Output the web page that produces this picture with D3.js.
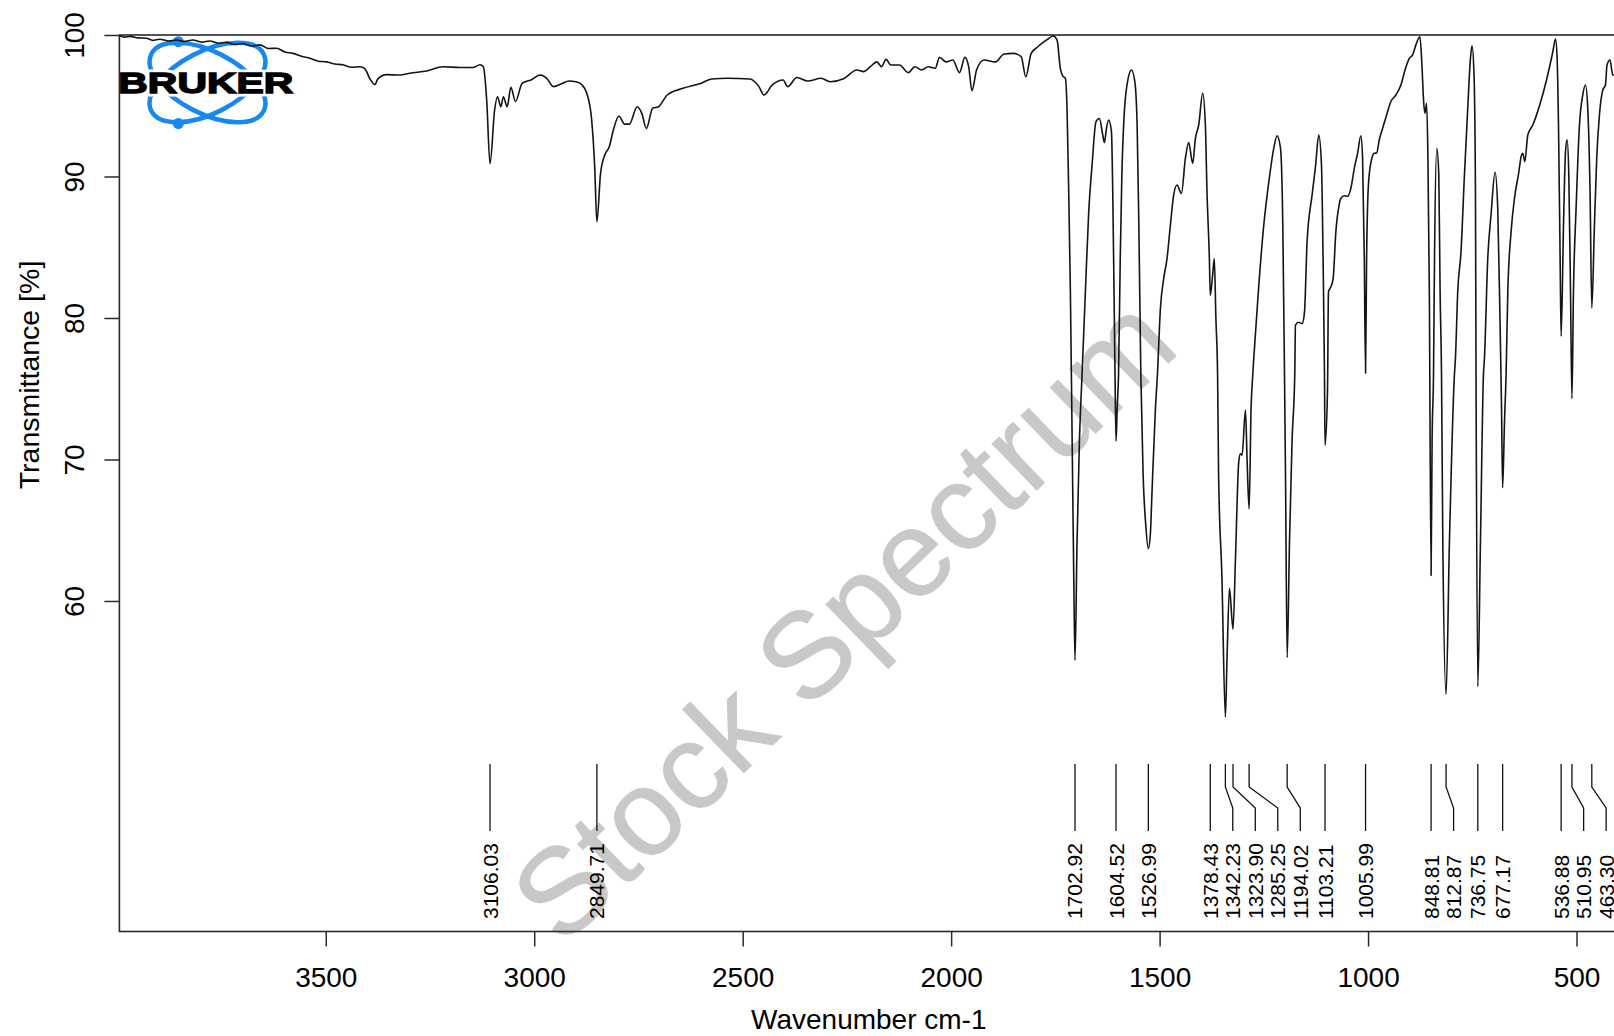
<!DOCTYPE html>
<html>
<head>
<meta charset="utf-8">
<script src="https://cdn.jsdelivr.net/npm/d3@7"></script>
<style>
  html, body { margin: 0; padding: 0; background: #ffffff; }
  svg { display: block; }
  text { font-family: "Liberation Sans", Arial, Helvetica, sans-serif; }
</style>
</head>
<body>
<svg id="chart" width="1614" height="1036"></svg>
<script>
// IR spectrum: [wavenumber cm-1, transmittance %], high to low wavenumber
const spectrum = [
  [3995,99.95],[3982,99.85],[3970,99.9],[3950,99.8],[3930,99.77],[3915,99.62],[3898,99.7],[3878,99.58],
  [3858,99.65],[3840,99.55],[3819,99.65],[3798,99.5],[3778,99.58],[3758,99.42],[3738,99.48],[3718,99.33],
  [3699,99.4],[3678,99.22],[3658,99.3],[3638,99.05],[3618,99.06],[3598,98.8],[3579,98.7],[3558,98.5],
  [3538,98.35],[3518,98.15],[3498,98.1],[3478,97.95],[3459,97.9],[3438,97.72],[3418,97.76],
  [3406,97.6],[3394,96.9],[3382,96.5],[3375,96.9],[3354,97.2],[3322,97.17],[3298,97.3],[3258,97.45],
  [3219,97.76],[3178,97.7],[3147,97.7],[3130,97.9],[3122,97.76],[3114,95.4],[3106.03,90.9],[3095,94.7],
  [3088,95.64],[3080,94.93],[3074,95.64],[3065,94.93],[3056,96.3],[3045,95.3],[3029,96.58],[3008,96.82],
  [2986,97.17],[2970,96.94],[2954,96.35],[2933,96.58],[2917,96.75],[2900,96.7],[2885,96.47],[2874,95.88],
  [2863,94.23],[2855,90.7],[2849.71,86.8],[2841,90.2],[2831,91.5],[2820,92.1],[2810,93.3],[2797,94.28],
  [2783,93.7],[2772,93.7],[2753,94.93],[2742,94.46],[2731,93.4],[2716,94.82],[2702,94.93],[2681,95.76],
  [2643,96.23],[2601,96.58],[2574,96.89],[2536,96.94],[2483,96.89],[2461,96.35],[2449,95.76],[2429,96.47],
  [2403,96.82],[2392,96.35],[2370,97.0],[2344,96.75],[2312,96.94],[2290,96.7],[2258,96.91],[2226,97.53],
  [2210,97.41],[2194,97.76],[2178,98.1],[2167,97.76],[2156,98.28],[2145,97.88],[2124,97.88],[2103,97.34],
  [2087,97.76],[2071,97.53],[2055,97.76],[2038,97.65],[2028,98.42],[2012,98.1],[1996,98.23],[1980,97.34],
  [1967,98.42],[1958,97.76],[1950,96.07],[1939,97.53],[1921,98.23],[1894,98.1],[1873,98.66],[1851,98.7],
  [1832,98.47],[1821,97.05],[1808,98.7],[1792,99.17],[1771,99.65],[1755,99.93],[1746,99.65],[1738,97.6],
  [1732,97.1],[1726,96.94],[1722,94.8],[1718,88.9],[1714,81.9],[1710,72],[1706,62],[1702.92,55.8],
  [1698,64.2],[1692.3,71.3],[1686,76],[1678,81.86],[1670,87.5],[1662,90.8],[1652.5,93.87],[1644.3,94.1],
  [1636.3,92.93],[1632.3,92.4],[1627.5,93.4],[1622,93.99],[1615.5,93.17],[1612.4,88.93],[1609.3,81.86],
  [1606.9,76],[1604.52,71.3],[1601.7,73.6],[1598.5,76],[1594.4,84.2],[1590.5,90.1],[1585,94.35],
  [1575.4,96.94],[1567.5,97.53],[1559.4,96.7],[1553.9,93.64],[1549.8,86.6],[1545,76],[1539.5,68.9],
  [1533,65.3],[1526.99,63.7],[1522,64.8],[1518.2,67.7],[1510,73.6],[1505.2,76],[1498,80.7],[1490.1,82.8],
  [1482.2,84.2],[1474.1,86.57],[1466.2,88.7],[1458.2,89.4],[1447.7,88.8],[1438.1,91.29],[1430.2,92.4],
  [1420.6,90.93],[1414.1,92.7],[1406.2,93.64],[1396.6,95.88],[1390.2,93.64],[1386.3,88.9],[1380.6,84.2],
  [1378.43,81.6],[1372.9,83.0],[1368.8,84.2],[1365,80],[1360.9,76],[1358.5,68.9],[1350.6,61.8],
  [1342.23,51.8],[1338.2,56.0],[1332.4,60.9],[1323.9,58.0],[1318,63.0],[1310.1,69.85],[1306,70.4],
  [1302.2,70.3],[1294,73.5],[1290.2,70],[1285.25,66.5],[1280.6,73.6],[1276.5,76],[1274.1,77.15],
  [1262.1,82.3],[1250.1,86.57],[1238.1,89.6],[1226.1,92.0],[1218.2,92.88],[1210,92.0],[1204.5,86.57],
  [1200.4,76],[1198,68.9],[1194.02,56.0],[1188.4,64.2],[1182.3,71.3],[1175.8,76],[1174.1,79.5],
  [1166.2,79.7],[1158.2,79.6],[1152.5,80.4],[1146.2,85.4],[1134.2,88.7],[1126.1,90.7],[1118.2,92.93],
  [1111.7,90.8],[1107.9,84.2],[1104.5,76],[1103.21,71.0],[1097.3,74.8],[1094.9,81.86],[1089.2,82.2],
  [1083.7,82.8],[1077.2,86.1],[1069.3,88.0],[1065.2,88.46],[1057,88.64],[1049.1,88.6],[1041.2,89.17],
  [1033,90.58],[1025.1,91.64],[1017.2,92.88],[1013.1,91.3],[1009,84.2],[1005.99,76.1],[1003.5,84.2],
  [998.7,89.6],[990.8,91.3],[985,91.64],[979.5,91.66],[973,92.6],[965.1,93.4],[955.5,94.35],[945.2,95.3],
  [933.2,95.76],[921.2,96.47],[910.6,97.6],[901,98.35],[893.1,98.59],[885.2,99.3],[875.6,99.88],
  [870.8,97.88],[866.7,95.3],[863.6,94.47],[859.5,95.17],[856.4,91.3],[853,81.86],[848.81,61.8],
  [846.4,71.3],[843,76],[840.6,84.2],[835.1,92.0],[830.3,90.1],[827.2,81.86],[823.8,76],[820.7,64.2],
  [812.87,53.4],[804.8,64.2],[792.8,76],[790.4,77.15],[784.9,81.86],[777,84.7],[768.8,90.1],[760.9,94.8],
  [754.4,98.35],[750.6,99.24],[745.8,97.17],[742.4,89],[741,76],[736.75,53.95],[730.4,64.2],[723.2,76],
  [720.8,77.15],[712.9,84.2],[705,87.3],[695.4,90.3],[688.9,87.7],[683.3,79.5],[680,74],[677.17,68.0],
  [672.8,72.6],[668.9,76],[664.8,81.86],[656.9,86.1],[648.8,88.46],[638.4,90.3],[632.9,91.4],[628.8,91.64],
  [624,91.05],[616.8,92.93],[604.8,93.64],[588.8,95.0],[572.9,96.7],[556.9,98.8],[550.4,99.72],[546.5,98.35],
  [543.2,93.64],[539.3,84.2],[536.88,78.7],[531.2,86.57],[526.4,91.75],[522.5,92.6],[518.5,90.1],
  [514.4,81.86],[510.95,74.3],[507.3,81.86],[501,87.75],[492.9,93.64],[485,95.76],[478.5,96.47],[473,94.8],
  [467.5,88.9],[463.3,80.7],[457,86.57],[451.5,91.3],[445,94.35],[437.1,96.1],[430.6,96.47],[426.8,97.88],
  [419.6,98.23],[413.1,97.17],[400,97.5]
];

// Picked peak positions (cm-1)
const peakPositions = [3106.03, 2849.71, 1702.92, 1604.52, 1526.99, 1378.43, 1342.23, 1323.90,
  1285.25, 1194.02, 1103.21, 1005.99, 848.81, 812.87, 736.75, 677.17, 536.88, 510.95, 463.30];

const xTickValues = [3500, 3000, 2500, 2000, 1500, 1000, 500];
const yTickValues = [60, 70, 80, 90, 100];

const xLabel = "Wavenumber cm-1";
const yLabel = "Transmittance [%]";
const watermark = "Stock Spectrum";

const svg = d3.select("#chart");
const plot = { left: 119.4, right: 1618.2, top: 35, bottom: 931.5 };

const x = d3.scaleLinear().domain([3995, 400]).range([plot.left, plot.right]);
const y = d3.scaleLinear().domain([36.64, 100]).range([plot.bottom, plot.top]);

svg.append("rect").attr("width", 1614).attr("height", 1036).attr("fill", "#ffffff");

// watermark
svg.append("text")
  .attr("transform", "translate(843,619) rotate(-44)")
  .attr("text-anchor", "middle")
  .attr("dominant-baseline", "central")
  .attr("font-size", 122)
  .attr("fill", "#c8c8c8")
  .attr("stroke", "#c8c8c8").attr("stroke-width", 0.8)
  .text(watermark);

// Bruker logo
const logo = svg.append("g");
const blue = "#1887ee";
[27, -27].forEach(a => {
  logo.append("ellipse")
    .attr("transform", `translate(207.5,82.5) rotate(${a})`)
    .attr("rx", 63).attr("ry", 31)
    .attr("fill", "none").attr("stroke", blue).attr("stroke-width", 4.5);
});
logo.append("circle").attr("cx", 178.3).attr("cy", 41.7).attr("r", 5.5).attr("fill", blue);
logo.append("circle").attr("cx", 178.3).attr("cy", 123.5).attr("r", 5.5).attr("fill", blue);
logo.append("text")
  .attr("x", 118.3).attr("y", 93.3)
  .attr("font-size", 29).attr("font-weight", "bold")
  .attr("textLength", 175).attr("lengthAdjust", "spacingAndGlyphs")
  .attr("fill", "#ffffff").attr("stroke", "#ffffff").attr("stroke-width", 7)
  .attr("stroke-linejoin", "round")
  .text("BRUKER");
logo.append("text")
  .attr("x", 118.3).attr("y", 93.3)
  .attr("font-size", 29).attr("font-weight", "bold")
  .attr("textLength", 175).attr("lengthAdjust", "spacingAndGlyphs")
  .attr("fill", "#000000").attr("stroke", "#000000").attr("stroke-width", 1.4)
  .text("BRUKER");

// axes
const axisColor = "#2a2a2a";
const xAxis = svg.append("g")
  .attr("transform", `translate(0,${plot.bottom})`)
  .call(d3.axisBottom(x).tickValues(xTickValues).tickSize(15).tickFormat(d3.format("d")));
xAxis.select(".domain").remove();
xAxis.selectAll(".tick line").attr("stroke", axisColor).attr("stroke-width", 1.5);
xAxis.selectAll(".tick text")
  .attr("y", 55.5).attr("dy", 0)
  .attr("font-size", 28).attr("fill", "#000")
  .attr("font-family", "Liberation Sans, Arial, sans-serif");

const yAxis = svg.append("g")
  .attr("transform", `translate(${plot.left},0)`)
  .call(d3.axisLeft(y).tickValues(yTickValues).tickSize(15).tickFormat(d3.format("d")));
yAxis.select(".domain").remove();
yAxis.selectAll(".tick line").attr("stroke", axisColor).attr("stroke-width", 1.5);
yAxis.selectAll(".tick text")
  .attr("x", 0).attr("y", 0).attr("dy", 0)
  .attr("transform", `translate(${84 - plot.left},0) rotate(-90)`)
  .attr("text-anchor", "middle")
  .attr("font-size", 28).attr("fill", "#000")
  .attr("font-family", "Liberation Sans, Arial, sans-serif");

// frame
svg.append("rect")
  .attr("x", plot.left).attr("y", plot.top)
  .attr("width", plot.right - plot.left).attr("height", plot.bottom - plot.top)
  .attr("fill", "none").attr("stroke", axisColor).attr("stroke-width", 1.6);

// axis titles
svg.append("text")
  .attr("x", (plot.left + plot.right) / 2).attr("y", 1029)
  .attr("text-anchor", "middle").attr("font-size", 28).attr("fill", "#000")
  .text(xLabel);
svg.append("text")
  .attr("transform", "translate(39,375) rotate(-90)")
  .attr("text-anchor", "middle").attr("font-size", 28.5).attr("fill", "#000")
  .text(yLabel);

// spectrum trace
const line = d3.line()
  .x(d => x(d[0]))
  .y(d => y(d[1]))
  .curve(d3.curveMonotoneX);
svg.append("path")
  .datum(spectrum)
  .attr("d", line)
  .attr("fill", "none")
  .attr("stroke", "#141414")
  .attr("stroke-width", 1.6)
  .attr("stroke-linejoin", "round");

// peak markers: labels are spread apart so they never overlap
const minGap = 22.5;
const peaks = peakPositions.map(p => ({ value: p, x0: x(p) })).sort((a, b) => a.x0 - b.x0);
peaks.forEach((p, i) => {
  p.xl = i === 0 ? p.x0 : Math.max(p.x0, peaks[i - 1].xl + minGap);
});
const markTop = 764, kinkStart = 787, kinkEnd = 808, markBottom = 831, labelBase = 919;
const fmt = d3.format(".2f");
const peakGroup = svg.append("g");
peakGroup.selectAll("path")
  .data(peaks)
  .join("path")
  .attr("d", p => `M${p.x0},${markTop}V${kinkStart}L${p.xl},${kinkEnd}V${markBottom}`)
  .attr("fill", "none").attr("stroke", "#111").attr("stroke-width", 1.3);
peakGroup.selectAll("text")
  .data(peaks)
  .join("text")
  .attr("transform", p => `translate(${p.xl + 7.5},${labelBase}) rotate(-90)`)
  .attr("text-anchor", "start")
  .attr("font-size", 21)
  .attr("fill", "#000")
  .text(p => fmt(p.value));
</script>
</body>
</html>
